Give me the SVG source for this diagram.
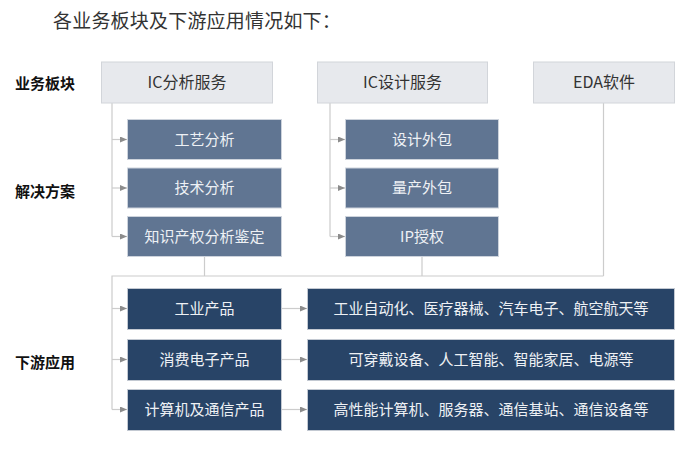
<svg xmlns="http://www.w3.org/2000/svg" width="692" height="453" viewBox="0 0 692 453">
  <style>
    .title { font-family: "Liberation Serif", "Noto Sans CJK SC", serif; font-size: 19px; fill: #333; letter-spacing: 0.2px; }
    .lbl { font-family: "Noto Sans CJK SC", sans-serif; font-size: 15px; font-weight: bold; fill: #111; }
    .top rect { fill: #e7e9ed; stroke: #d2d5da; stroke-width: 1; }
    .top text { font-family: "Noto Sans CJK SC", sans-serif; font-size: 16px; fill: #333; text-anchor: middle; }
    .mid rect { fill: #607592; stroke: #cdd3dc; stroke-width: 1; }
    .mid text { font-family: "Noto Sans CJK SC", sans-serif; font-size: 15px; fill: #eef1f5; text-anchor: middle; }
    .bot rect { fill: #284467; stroke: #c3c9d2; stroke-width: 1; }
    .bot text { font-family: "Noto Sans CJK SC", sans-serif; font-size: 15px; fill: #eef1f5; text-anchor: middle; }
    .conn path { fill: none; stroke: #cccccc; stroke-width: 1.2; }
    .conn path.arr { marker-end: url(#ah); }
  </style>
  <defs>
    <marker id="ah" markerUnits="userSpaceOnUse" markerWidth="7" markerHeight="6" refX="7" refY="3" orient="auto">
      <path d="M0,0 L7,3 L0,6 z" fill="#8c8c8c"/>
    </marker>
  </defs>
  <rect x="0" y="0" width="692" height="453" fill="#ffffff"/>

  <text class="title" x="53" y="28">各业务板块及下游应用情况如下：</text>

  <text class="lbl" x="15" y="89">业务板块</text>
  <text class="lbl" x="15" y="197">解决方案</text>
  <text class="lbl" x="15" y="368">下游应用</text>

  <g class="conn">
    <path d="M112 103 V236.5"/>
    <path class="arr" d="M112 139.5 H127"/>
    <path class="arr" d="M112 188 H127"/>
    <path class="arr" d="M112 236.5 H127"/>
    <path d="M330 103 V236.5"/>
    <path class="arr" d="M330 139.5 H345"/>
    <path class="arr" d="M330 188 H345"/>
    <path class="arr" d="M330 236.5 H345"/>
    <path d="M204.5 257 V276"/>
    <path d="M422 257 V276"/>
    <path d="M603.5 103 V276"/>
    <path d="M112 409.5 V276 H603.5"/>
    <path class="arr" d="M112 308.5 H127"/>
    <path class="arr" d="M112 359.5 H127"/>
    <path class="arr" d="M112 409.5 H127"/>
    <path class="arr" d="M282 308.5 H307"/>
    <path class="arr" d="M282 359.5 H307"/>
    <path class="arr" d="M282 409.5 H307"/>
  </g>

  <g id="ic-analysis" class="top"><rect x="101.5" y="62" width="171" height="41"/><text x="187" y="88">IC分析服务</text></g>
  <g id="ic-design" class="top"><rect x="317.5" y="62" width="170" height="41"/><text x="402.5" y="88">IC设计服务</text></g>
  <g id="eda" class="top"><rect x="533.5" y="62" width="141" height="41"/><text x="604" y="88">EDA软件</text></g>

  <g id="process" class="mid"><rect x="127.5" y="119.5" width="154" height="40"/><text x="204.5" y="144.5">工艺分析</text></g>
  <g id="tech" class="mid"><rect x="127.5" y="168" width="154" height="40"/><text x="204.5" y="193">技术分析</text></g>
  <g id="ip-appraisal" class="mid"><rect x="127.5" y="216.5" width="154" height="40"/><text x="204.5" y="241.5">知识产权分析鉴定</text></g>

  <g id="design-outsource" class="mid"><rect x="345.5" y="119.5" width="153" height="40"/><text x="422" y="144.5">设计外包</text></g>
  <g id="mass-outsource" class="mid"><rect x="345.5" y="168" width="153" height="40"/><text x="422" y="193">量产外包</text></g>
  <g id="ip-license" class="mid"><rect x="345.5" y="216.5" width="153" height="40"/><text x="422" y="241.5">IP授权</text></g>

  <g id="industrial" class="bot"><rect x="127.5" y="288.5" width="154" height="41"/><text x="204.5" y="314">工业产品</text></g>
  <g id="consumer" class="bot"><rect x="127.5" y="339.5" width="154" height="41"/><text x="204.5" y="365">消费电子产品</text></g>
  <g id="computer" class="bot"><rect x="127.5" y="389.5" width="154" height="41"/><text x="204.5" y="415">计算机及通信产品</text></g>

  <g id="industrial-apps" class="bot"><rect x="307.5" y="288.5" width="367" height="41"/><text x="491" y="314">工业自动化、医疗器械、汽车电子、航空航天等</text></g>
  <g id="consumer-apps" class="bot"><rect x="307.5" y="339.5" width="367" height="41"/><text x="491" y="365">可穿戴设备、人工智能、智能家居、电源等</text></g>
  <g id="computer-apps" class="bot"><rect x="307.5" y="389.5" width="367" height="41"/><text x="491" y="415">高性能计算机、服务器、通信基站、通信设备等</text></g>
</svg>
